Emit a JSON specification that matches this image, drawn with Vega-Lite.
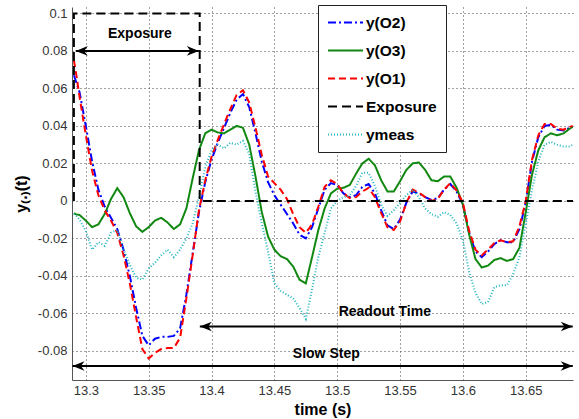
{
  "$schema": "https://vega.github.io/schema/vega-lite/v6.json",
  "width": 501,
  "height": 373,
  "autosize": {"type": "none"},
  "padding": {"left": 72, "top": 7, "right": 6, "bottom": 39},
  "background": "white",
  "config": {"font": "Liberation Sans", "view": {"stroke": null}},
  "datasets": {
    "curves": [
      {"t": 13.2905, "O1": 0.075, "O2": 0.067, "O3": -0.0065, "meas": -0.007},
      {"t": 13.2925, "O1": 0.067, "O2": 0.063, "O3": -0.0072, "meas": -0.008},
      {"t": 13.295, "O1": 0.0555, "O2": 0.058, "O3": -0.0075, "meas": -0.010},
      {"t": 13.30, "O1": 0.035, "O2": 0.040, "O3": -0.0105, "meas": -0.016},
      {"t": 13.305, "O1": 0.016, "O2": 0.021, "O3": -0.014, "meas": -0.026},
      {"t": 13.31, "O1": 0.003, "O2": 0.006, "O3": -0.0125, "meas": -0.022},
      {"t": 13.315, "O1": -0.005, "O2": -0.003, "O3": -0.007, "meas": -0.024},
      {"t": 13.32, "O1": -0.0105, "O2": -0.009, "O3": 0.001, "meas": -0.017},
      {"t": 13.325, "O1": -0.017, "O2": -0.015, "O3": 0.0068, "meas": -0.0155},
      {"t": 13.33, "O1": -0.029, "O2": -0.026, "O3": 0.002, "meas": -0.026},
      {"t": 13.335, "O1": -0.044, "O2": -0.040, "O3": -0.0065, "meas": -0.034},
      {"t": 13.34, "O1": -0.062, "O2": -0.057, "O3": -0.0135, "meas": -0.041},
      {"t": 13.345, "O1": -0.079, "O2": -0.072, "O3": -0.0165, "meas": -0.042},
      {"t": 13.35, "O1": -0.084, "O2": -0.077, "O3": -0.014, "meas": -0.036},
      {"t": 13.355, "O1": -0.081, "O2": -0.0735, "O3": -0.0105, "meas": -0.033},
      {"t": 13.36, "O1": -0.079, "O2": -0.0725, "O3": -0.009, "meas": -0.029},
      {"t": 13.365, "O1": -0.0785, "O2": -0.0725, "O3": -0.0115, "meas": -0.026},
      {"t": 13.37, "O1": -0.0785, "O2": -0.072, "O3": -0.015, "meas": -0.030},
      {"t": 13.375, "O1": -0.073, "O2": -0.068, "O3": -0.0125, "meas": -0.026},
      {"t": 13.38, "O1": -0.052, "O2": -0.050, "O3": -0.004, "meas": -0.020},
      {"t": 13.385, "O1": -0.029, "O2": -0.028, "O3": 0.012, "meas": -0.012},
      {"t": 13.39, "O1": -0.005, "O2": -0.006, "O3": 0.027, "meas": 0.002},
      {"t": 13.395, "O1": 0.011, "O2": 0.010, "O3": 0.036, "meas": 0.018},
      {"t": 13.40, "O1": 0.0235, "O2": 0.022, "O3": 0.038, "meas": 0.027},
      {"t": 13.405, "O1": 0.0325, "O2": 0.031, "O3": 0.0365, "meas": 0.030},
      {"t": 13.41, "O1": 0.041, "O2": 0.039, "O3": 0.036, "meas": 0.028},
      {"t": 13.415, "O1": 0.049, "O2": 0.047, "O3": 0.038, "meas": 0.031},
      {"t": 13.42, "O1": 0.0565, "O2": 0.054, "O3": 0.040, "meas": 0.030},
      {"t": 13.425, "O1": 0.059, "O2": 0.057, "O3": 0.039, "meas": 0.032},
      {"t": 13.43, "O1": 0.0525, "O2": 0.050, "O3": 0.030, "meas": 0.025},
      {"t": 13.435, "O1": 0.039, "O2": 0.036, "O3": 0.013, "meas": 0.005},
      {"t": 13.44, "O1": 0.0245, "O2": 0.021, "O3": -0.006, "meas": -0.012},
      {"t": 13.445, "O1": 0.013, "O2": 0.010, "O3": -0.019, "meas": -0.027},
      {"t": 13.45, "O1": 0.0095, "O2": 0.003, "O3": -0.026, "meas": -0.044},
      {"t": 13.455, "O1": 0.006, "O2": -0.002, "O3": -0.0295, "meas": -0.048},
      {"t": 13.46, "O1": 0.001, "O2": -0.007, "O3": -0.031, "meas": -0.050},
      {"t": 13.465, "O1": -0.007, "O2": -0.012, "O3": -0.035, "meas": -0.052},
      {"t": 13.47, "O1": -0.014, "O2": -0.018, "O3": -0.042, "meas": -0.057},
      {"t": 13.475, "O1": -0.017, "O2": -0.020, "O3": -0.044, "meas": -0.063},
      {"t": 13.48, "O1": -0.0125, "O2": -0.014, "O3": -0.030, "meas": -0.047},
      {"t": 13.485, "O1": -0.003, "O2": -0.004, "O3": -0.0155, "meas": -0.030},
      {"t": 13.49, "O1": 0.0075, "O2": 0.006, "O3": -0.004, "meas": -0.017},
      {"t": 13.495, "O1": 0.011, "O2": 0.0095, "O3": 0.004, "meas": -0.004},
      {"t": 13.50, "O1": 0.009, "O2": 0.0085, "O3": 0.0065, "meas": 0.000},
      {"t": 13.505, "O1": 0.004, "O2": 0.004, "O3": 0.007, "meas": 0.002},
      {"t": 13.51, "O1": 0.0015, "O2": 0.002, "O3": 0.0085, "meas": 0.003},
      {"t": 13.515, "O1": 0.002, "O2": 0.003, "O3": 0.0145, "meas": 0.008},
      {"t": 13.52, "O1": 0.005, "O2": 0.0075, "O3": 0.020, "meas": 0.015},
      {"t": 13.525, "O1": 0.007, "O2": 0.009, "O3": 0.0225, "meas": 0.015},
      {"t": 13.53, "O1": 0.002, "O2": 0.004, "O3": 0.019, "meas": 0.008},
      {"t": 13.535, "O1": -0.0065, "O2": -0.005, "O3": 0.011, "meas": -0.002},
      {"t": 13.54, "O1": -0.014, "O2": -0.013, "O3": 0.005, "meas": -0.008},
      {"t": 13.545, "O1": -0.0155, "O2": -0.015, "O3": 0.005, "meas": -0.005},
      {"t": 13.55, "O1": -0.011, "O2": -0.010, "O3": 0.0105, "meas": -0.001},
      {"t": 13.555, "O1": -0.001, "O2": -0.001, "O3": 0.0165, "meas": 0.003},
      {"t": 13.56, "O1": 0.006, "O2": 0.005, "O3": 0.020, "meas": 0.006},
      {"t": 13.565, "O1": 0.0045, "O2": 0.004, "O3": 0.0205, "meas": 0.002},
      {"t": 13.57, "O1": 0.002, "O2": 0.002, "O3": 0.0165, "meas": -0.004},
      {"t": 13.575, "O1": 0.0, "O2": 0.0005, "O3": 0.011, "meas": -0.007},
      {"t": 13.58, "O1": 0.001, "O2": 0.0015, "O3": 0.0105, "meas": -0.0085},
      {"t": 13.585, "O1": 0.006, "O2": 0.006, "O3": 0.013, "meas": -0.006},
      {"t": 13.59, "O1": 0.0095, "O2": 0.009, "O3": 0.013, "meas": -0.0075},
      {"t": 13.595, "O1": 0.0055, "O2": 0.005, "O3": 0.007, "meas": -0.012},
      {"t": 13.60, "O1": -0.001, "O2": -0.002, "O3": -0.002, "meas": -0.021},
      {"t": 13.605, "O1": -0.016, "O2": -0.017, "O3": -0.018, "meas": -0.038},
      {"t": 13.61, "O1": -0.026, "O2": -0.027, "O3": -0.031, "meas": -0.049},
      {"t": 13.615, "O1": -0.029, "O2": -0.030, "O3": -0.0355, "meas": -0.055},
      {"t": 13.62, "O1": -0.026, "O2": -0.027, "O3": -0.0345, "meas": -0.054},
      {"t": 13.625, "O1": -0.0225, "O2": -0.023, "O3": -0.0315, "meas": -0.046},
      {"t": 13.63, "O1": -0.021, "O2": -0.021, "O3": -0.0305, "meas": -0.045},
      {"t": 13.635, "O1": -0.022, "O2": -0.022, "O3": -0.032, "meas": -0.045},
      {"t": 13.64, "O1": -0.0215, "O2": -0.022, "O3": -0.031, "meas": -0.039},
      {"t": 13.645, "O1": -0.0135, "O2": -0.015, "O3": -0.025, "meas": -0.030},
      {"t": 13.65, "O1": 0.0, "O2": -0.001, "O3": -0.006, "meas": -0.012},
      {"t": 13.655, "O1": 0.022, "O2": 0.021, "O3": 0.014, "meas": 0.006},
      {"t": 13.66, "O1": 0.035, "O2": 0.034, "O3": 0.027, "meas": 0.021},
      {"t": 13.665, "O1": 0.041, "O2": 0.040, "O3": 0.034, "meas": 0.030},
      {"t": 13.67, "O1": 0.041, "O2": 0.0405, "O3": 0.036, "meas": 0.0315},
      {"t": 13.675, "O1": 0.0385, "O2": 0.038, "O3": 0.035, "meas": 0.030},
      {"t": 13.68, "O1": 0.038, "O2": 0.0375, "O3": 0.036, "meas": 0.029},
      {"t": 13.685, "O1": 0.0395, "O2": 0.039, "O3": 0.0385, "meas": 0.029},
      {"t": 13.6874, "O1": 0.040, "O2": 0.0395, "O3": 0.0395, "meas": 0.030}
    ],
    "exposure": [
      {"i": 0, "t": 13.2905, "value": 0, "key": "Exposure"},
      {"i": 1, "t": 13.2905, "value": 0.1, "key": "Exposure"},
      {"i": 2, "t": 13.3906, "value": 0.1, "key": "Exposure"},
      {"i": 3, "t": 13.3906, "value": 0, "key": "Exposure"},
      {"i": 4, "t": 13.6876, "value": 0, "key": "Exposure"}
    ],
    "arrows": [
      {"x1": 13.292, "x2": 13.3899, "y": 0.08},
      {"x1": 13.3907, "x2": 13.6874, "y": -0.067},
      {"x1": 13.2894, "x2": 13.6874, "y": -0.088}
    ],
    "notes": [
      {"t": 13.343, "y": 0.0891, "label": "Exposure"},
      {"t": 13.5379, "y": -0.0592, "label": "Readout Time"},
      {"t": 13.4913, "y": -0.0816, "label": "Slow Step"}
    ]
  },
  "layer": [
    {
      "data": {"name": "curves"},
      "transform": [{"fold": ["O2", "O3", "O1", "meas"], "as": ["key", "value"]}],
      "mark": {"type": "line", "clip": true},
      "encoding": {
        "x": {
          "field": "t", "type": "quantitative",
          "scale": {"domain": [13.289, 13.6876], "nice": false, "zero": false},
          "axis": {
            "values": [13.3, 13.35, 13.4, 13.45, 13.5, 13.55, 13.6, 13.65],
            "format": ".2~f",
            "title": "time (s)",
            "titleFontSize": 16, "titleFontWeight": "bold", "titleColor": "black",
            "titlePadding": 4,
            "labelFontSize": 13, "labelColor": "#333", "labelPadding": 4,
            "ticks": false,
            "domainColor": "#555",
            "grid": true, "gridDash": [1, 3], "gridColor": "#444", "gridOpacity": 1
          }
        },
        "y": {
          "field": "value", "type": "quantitative",
          "scale": {"domain": [-0.0955, 0.1034], "nice": false, "zero": false},
          "axis": {
            "values": [-0.08, -0.06, -0.04, -0.02, 0, 0.02, 0.04, 0.06, 0.08, 0.1],
            "labelExpr": "replace(format(datum.value, '.2~f'), '\u2212', '-')",
            "title": "y\u208d.\u208e(t)",
            "titleFontSize": 16, "titleFontWeight": "bold", "titleColor": "black",
            "titlePadding": 8,
            "labelFontSize": 13, "labelColor": "#333", "labelPadding": 5,
            "ticks": false,
            "domainColor": "#555",
            "grid": true, "gridDash": [1, 3], "gridColor": "#444", "gridOpacity": 1
          }
        },
        "color": {
          "field": "key", "type": "nominal",
          "scale": {
            "domain": ["O2", "O3", "O1", "Exposure", "meas"],
            "range": ["#0000ff", "#118811", "#ff0000", "#000000", "#22b5c0"]
          },
          "legend": {
            "title": null,
            "orient": "none", "legendX": 246, "legendY": -2,
            "fillColor": "white", "strokeColor": "#222",
            "padding": 9, "rowPadding": 11,
            "symbolType": "M-1,0L3.67,0", "symbolSize": 225,
            "labelFontSize": 15.5, "labelFontWeight": "bold", "labelColor": "black",
            "labelOffset": 22,
            "labelExpr": "datum.label == 'O2' ? 'y(O2)' : datum.label == 'O3' ? 'y(O3)' : datum.label == 'O1' ? 'y(O1)' : datum.label == 'meas' ? 'ymeas' : datum.label"
          }
        },
        "strokeDash": {
          "field": "key", "type": "nominal",
          "scale": {
            "domain": ["O2", "O3", "O1", "Exposure", "meas"],
            "range": [[8, 3, 2, 3], [1, 0], [7, 4], [9, 5], [1, 2]]
          }
        },
        "strokeWidth": {
          "field": "key", "type": "nominal",
          "scale": {
            "domain": ["O2", "O3", "O1", "Exposure", "meas"],
            "range": [2, 2, 2, 3, 1.5]
          }
        }
      }
    },
    {
      "data": {"name": "exposure"},
      "mark": {"type": "line", "clip": true},
      "encoding": {
        "x": {"field": "t", "type": "quantitative"},
        "y": {"field": "value", "type": "quantitative"},
        "order": {"field": "i", "type": "quantitative"},
        "color": {"field": "key", "type": "nominal"},
        "strokeDash": {"field": "key", "type": "nominal"},
        "strokeWidth": {"field": "key", "type": "nominal"}
      }
    },
    {
      "data": {"name": "arrows"},
      "mark": {"type": "rule", "color": "black", "strokeWidth": 2},
      "encoding": {
        "x": {"field": "x1", "type": "quantitative"},
        "x2": {"field": "x2"},
        "y": {"field": "y", "type": "quantitative"}
      }
    },
    {
      "data": {"name": "arrows"},
      "mark": {"type": "point", "shape": "M0,0L1,-0.4L0.7,0L1,0.4Z", "filled": true, "color": "black", "opacity": 1, "size": 576, "strokeWidth": 0},
      "encoding": {
        "x": {"field": "x1", "type": "quantitative"},
        "y": {"field": "y", "type": "quantitative"}
      }
    },
    {
      "data": {"name": "arrows"},
      "mark": {"type": "point", "shape": "M0,0L-1,-0.4L-0.7,0L-1,0.4Z", "filled": true, "color": "black", "opacity": 1, "size": 576, "strokeWidth": 0},
      "encoding": {
        "x": {"field": "x2", "type": "quantitative"},
        "y": {"field": "y", "type": "quantitative"}
      }
    },
    {
      "data": {"name": "notes"},
      "mark": {"type": "text", "fontSize": 14, "fontWeight": "bold", "color": "black", "align": "center", "baseline": "middle"},
      "encoding": {
        "x": {"field": "t", "type": "quantitative"},
        "y": {"field": "y", "type": "quantitative"},
        "text": {"field": "label"}
      }
    }
  ]
}
